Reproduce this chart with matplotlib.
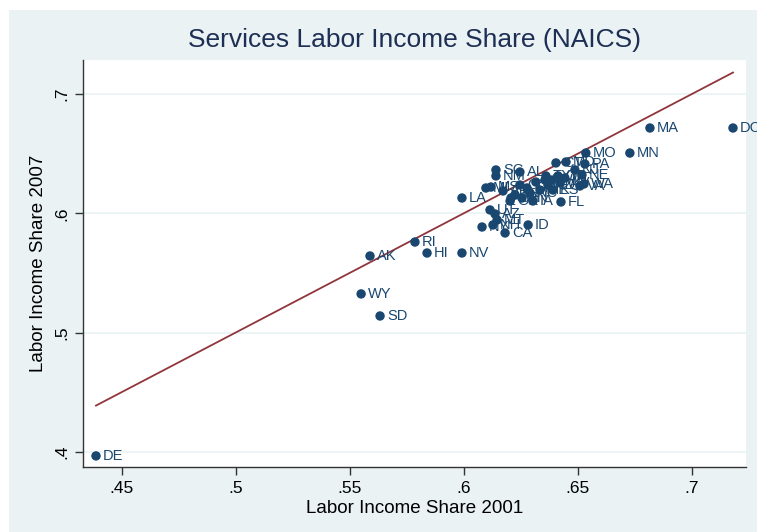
import matplotlib
matplotlib.use("Agg")
import matplotlib.pyplot as plt
from matplotlib.patches import Rectangle

states = ["DE", "WY", "SD", "AK", "RI", "HI", "NV", "LA", "MA", "DC", "MO", "MN",
          "FL", "ID", "CA", "SC", "NM", "AL", "MI", "MS", "OK", "OH", "IA", "UT",
          "AZ", "MT", "NH", "NY", "AR", "CO", "CT", "GA", "IL", "IN", "KS", "KY",
          "ME", "MD", "NE", "NJ", "NC", "ND", "OR", "PA", "TN", "TX", "VT", "VA",
          "WA", "WV", "WI"]
share_2001 = [0.4388, 0.5550, 0.5633, 0.5589, 0.5786, 0.5839, 0.5992, 0.5992, 0.6816, 0.7180, 0.6535, 0.6728,
              0.6426, 0.6282, 0.6181, 0.6141, 0.6141, 0.6246, 0.6097, 0.6119, 0.6203, 0.6207, 0.6303, 0.6115,
              0.6137, 0.6146, 0.6128, 0.6080, 0.6172, 0.6246, 0.6404, 0.6277, 0.6356, 0.6316, 0.6391, 0.6225,
              0.6334, 0.6448, 0.6518, 0.6487, 0.6290, 0.6369, 0.6413, 0.6531, 0.6255, 0.6360, 0.6443, 0.6509,
              0.6527, 0.6422, 0.6386]
share_2007 = [0.3966, 0.5324, 0.5139, 0.5642, 0.5759, 0.5667, 0.5667, 0.6128, 0.6715, 0.6715, 0.6505, 0.6505,
              0.6095, 0.5902, 0.5835, 0.6363, 0.6313, 0.6346, 0.6212, 0.6220, 0.6103, 0.6128, 0.6103, 0.6028,
              0.5994, 0.5944, 0.5902, 0.5885, 0.6187, 0.6237, 0.6422, 0.6212, 0.6279, 0.6262, 0.6195, 0.6153,
              0.6195, 0.6430, 0.6321, 0.6363, 0.6170, 0.6237, 0.6313, 0.6413, 0.6128, 0.6313, 0.6296, 0.6229,
              0.6246, 0.6254, 0.6279]
x_ticks = [0.45, 0.5, 0.55, 0.6, 0.65, 0.7]
x_ticklabels = [".45", ".5", ".55", ".6", ".65", ".7"]
y_ticks = [0.4, 0.5, 0.6, 0.7]
y_ticklabels = [".4", ".5", ".6", ".7"]

BG = "#EAF2F3"
NAVY = "#1A476F"
MAROON = "#90353B"

plt.rcParams["font.family"] = ["Liberation Sans", "DejaVu Sans"]

fig = plt.figure(figsize=(7.57, 5.32), dpi=100, facecolor="white")
fig.patches.append(Rectangle((9 / 757, 0), 1.0, 1 - 10 / 532, transform=fig.transFigure,
                             facecolor=BG, edgecolor="none", zorder=-5))
fig.text(393 / 757, 1 + 4 / 532, "(b)", ha="center", va="baseline", fontsize=14, color="black")

ax = fig.add_axes([83 / 757, 1 - 467 / 532, (746 - 83) / 757, (467 - 60) / 532])
ax.set_facecolor("white")
ax.set_xlim(0.4331, 0.7237)
ax.set_ylim(0.3873, 0.7285)

for yt in y_ticks:
    ax.axhline(yt, color=BG, lw=1.2, zorder=1)

lo, hi = min(share_2001), max(share_2001)
ax.plot([lo, hi], [lo, hi], color=MAROON, lw=1.3, zorder=2)

ax.scatter(share_2001, share_2007, s=46, color=NAVY, edgecolors="none", zorder=3)
for s, xv, yv in zip(states, share_2001, share_2007):
    ax.annotate(s, (xv, yv), xytext=(5, 0), textcoords="offset points", ha="left", va="center",
                fontsize=10.5, color=NAVY, zorder=4, annotation_clip=False)

ax.set_xticks(x_ticks)
ax.set_xticklabels(x_ticklabels)
ax.set_yticks(y_ticks)
ax.set_yticklabels(y_ticklabels, rotation=90, va="center")
ax.tick_params(axis="both", labelsize=12.5, length=6, width=1, color="#333333", labelcolor="black", pad=4)

for side in ["top", "right"]:
    ax.spines[side].set_visible(False)
for side in ["left", "bottom"]:
    ax.spines[side].set_color("#333333")
    ax.spines[side].set_linewidth(1.0)

ax.set_xlabel("Labor Income Share 2001", fontsize=13.5, labelpad=3)
ax.set_ylabel("Labor Income Share 2007", fontsize=13.5, labelpad=5)
ax.set_title("Services Labor Income Share (NAICS)", fontsize=19, color="#1E2F55", pad=9)

fig.savefig("out.png", dpi=100, facecolor=fig.get_facecolor())
